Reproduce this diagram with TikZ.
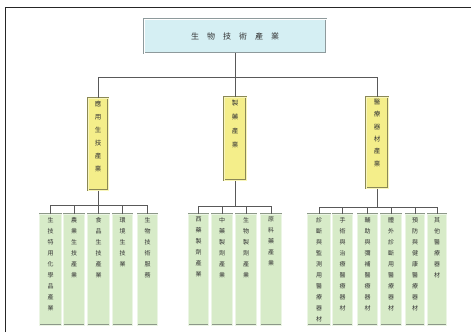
\documentclass[tikz,border=0pt]{standalone}
\usepackage{fontspec}
\newfontfamily\cjk{Noto Sans CJK TC}
\definecolor{titlefill}{HTML}{D5EFF3}
\definecolor{titledraw}{HTML}{8E9A9C}
\definecolor{yelfill}{HTML}{F4EE8A}
\definecolor{yeldraw}{HTML}{8A8856}
\definecolor{leaffill}{HTML}{D7EBC8}
\definecolor{leafdraw}{HTML}{8C9888}
\definecolor{txt}{HTML}{333333}
\newcommand{\colt}[4]{\parbox[c][#1][t]{#2}{\vspace*{#3}\centering\cjk\fontsize{6}{11}\selectfont\color{txt}#4\par}}
\newcommand{\colm}[4]{\parbox[c][#1][t]{#2}{\vspace*{#3}\centering\cjk\fontsize{6.5}{#4}\selectfont\color{txt}}}
\begin{document}
\begin{tikzpicture}[x=1pt,y=-1pt,
  conn/.style={draw=black!65, line width=0.6pt},
  titlebox/.style={draw=titledraw, fill=titlefill, line width=0.5pt, double=white, double distance=0.8pt, inner sep=0pt},
  midbox/.style={draw=yeldraw, fill=yelfill, line width=0.5pt, double=yelfill!60!white, double distance=0.6pt, inner sep=0pt, anchor=north},
  leafbox/.style={draw=leafdraw, fill=leaffill, line width=0.5pt, double=leaffill!50!white, double distance=0.6pt, inner sep=0pt, anchor=north}]
\useasboundingbox (0,0) rectangle (471,332);
\draw[line width=0.8pt, black!85] (5,332) -- (5,7) -- (471,7);

% title
\node[titlebox, minimum width=182pt, minimum height=34pt] (t) at (235,36)
  {\cjk\fontsize{8}{10}\selectfont\color{txt}生\hspace{8pt}物\hspace{8pt}技\hspace{8pt}術\hspace{8pt}產\hspace{8pt}業};

% level 2
\node[midbox] (a) at (98,98) {\parbox[c][92pt][t]{20pt}{\vspace*{3pt}\centering\cjk\fontsize{6.5}{13}\selectfont\color{txt}應\\用\\生\\技\\產\\業\par}};
\node[midbox] (b) at (235,97) {\parbox[c][83pt][t]{22pt}{\vspace*{3pt}\centering\cjk\fontsize{6.5}{14}\selectfont\color{txt}製\\藥\\產\\業\par}};
\node[midbox] (c) at (377,97) {\parbox[c][91pt][t]{22pt}{\vspace*{2pt}\centering\cjk\fontsize{6.5}{12.3}\selectfont\color{txt}醫\\療\\器\\材\\產\\業\par}};

\coordinate (j0) at (235,77);
\draw[conn] (t.south) -- (b.north);
\draw[conn] (a.north) -- (a.north |- j0) -- (c.north |- j0) -- (c.north);

% left leaves
\node[leafbox] (l1) at (50.5,214) {\colt{111pt}{22pt}{3pt}{生\\技\\特\\用\\化\\學\\品\\產\\業}};
\node[leafbox] (l2) at (74,214) {\colt{111pt}{21pt}{3pt}{農\\業\\生\\技\\產\\業}};
\node[leafbox] (l3) at (98.5,214) {\colt{111pt}{22pt}{3pt}{食\\品\\生\\技\\產\\業}};
\node[leafbox] (l4) at (122.5,214) {\colt{111pt}{20pt}{3pt}{環\\境\\生\\技\\業}};
\node[leafbox] (l5) at (147.5,214) {\colt{111pt}{20pt}{3pt}{生\\物\\技\\術\\服\\務}};
\coordinate (ja) at (98,205);
\draw[conn] (a.south) -- (ja);
\draw[conn] (l1.north) -- (l1.north |- ja) -- (l5.north |- ja) -- (l5.north);
\foreach \n in {l2,l3,l4} \draw[conn] (\n.north) -- (\n.north |- ja);

% middle leaves
\node[leafbox] (m1) at (198.5,214) {\colt{111pt}{20pt}{3pt}{西\\藥\\製\\劑\\產\\業}};
\node[leafbox] (m2) at (222,214) {\colt{111pt}{21pt}{3pt}{中\\藥\\製\\劑\\產\\業}};
\node[leafbox] (m3) at (246,214) {\colt{111pt}{21pt}{3pt}{生\\物\\製\\劑\\產\\業}};
\node[leafbox] (m4) at (271,214) {\colt{111pt}{21pt}{3pt}{原\\料\\藥\\產\\業}};
\coordinate (jb) at (235,206);
\draw[conn] (b.south) -- (jb);
\draw[conn] (m1.north) -- (m1.north |- jb) -- (m4.north |- jb) -- (m4.north);
\foreach \n in {m2,m3} \draw[conn] (\n.north) -- (\n.north |- jb);

% right leaves
\node[leafbox] (r1) at (319,214) {\colt{111pt}{23pt}{3pt}{診\\斷\\與\\監\\測\\用\\醫\\療\\器\\材}};
\node[leafbox] (r2) at (342.5,214) {\colt{111pt}{20pt}{3pt}{手\\術\\與\\治\\療\\醫\\療\\器\\材}};
\node[leafbox] (r3) at (367.5,214) {\colt{111pt}{20pt}{3pt}{輔\\助\\與\\彌\\補\\醫\\療\\器\\材}};
\node[leafbox] (r4) at (391,214) {\colt{111pt}{21pt}{3pt}{體\\外\\診\\斷\\用\\醫\\療\\器\\材}};
\node[leafbox] (r5) at (415,214) {\colt{111pt}{19pt}{3pt}{預\\防\\與\\健\\康\\醫\\療\\器\\材}};
\node[leafbox] (r6) at (437,214) {\colt{111pt}{19pt}{3pt}{其\\他\\醫\\療\\器\\材}};
\coordinate (jc) at (377,207);
\draw[conn] (c.south) -- (jc);
\draw[conn] (r1.north) -- (r1.north |- jc) -- (r6.north |- jc) -- (r6.north);
\foreach \n in {r2,r3,r4,r5} \draw[conn] (\n.north) -- (\n.north |- jc);
\end{tikzpicture}
\end{document}
